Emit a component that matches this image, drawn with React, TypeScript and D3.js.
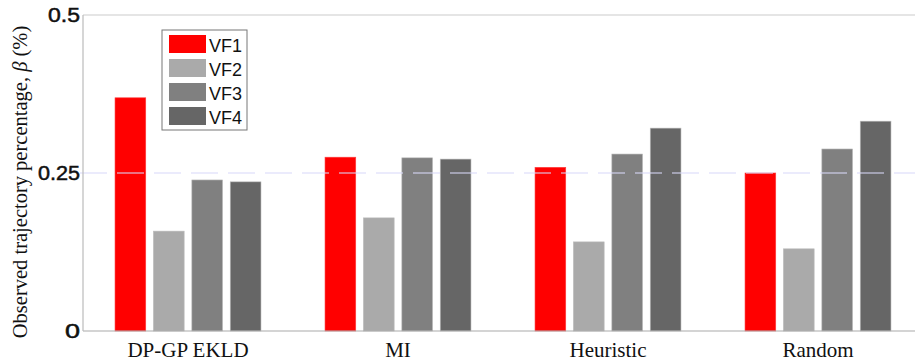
import React from "react";
import * as d3 from "d3";

const categories = ["DP-GP EKLD", "MI", "Heuristic", "Random"];
const seriesNames = ["VF1", "VF2", "VF3", "VF4"];
const vf1 = [0.369, 0.275, 0.259, 0.25];
const vf2 = [0.158, 0.179, 0.141, 0.13];
const vf3 = [0.239, 0.274, 0.28, 0.288];
const vf4 = [0.236, 0.272, 0.321, 0.332];
const seriesValues = [vf1, vf2, vf3, vf4];
const colors = ["#ff0000", "#aaaaaa", "#808080", "#666666"];
const yTicks = [0, 0.25, 0.5];
const yTickLabels = ["0", "0.25", "0.5"];

const W = 915;
const H = 363;
const left = 83;
const right = 923;
const top = 15;
const bottom = 331;

const SERIF = "'Liberation Serif', 'Times New Roman', serif";
const SANS = "'Liberation Sans', Arial, sans-serif";

export default function App() {
  const x0 = d3
    .scaleBand<string>()
    .domain(categories)
    .range([left, right])
    .paddingInner(0.305)
    .paddingOuter(0.1525);
  const x1 = d3
    .scaleBand<string>()
    .domain(seriesNames)
    .range([0, x0.bandwidth()])
    .paddingInner(0.2);
  const y = d3.scaleLinear().domain([0, 0.5]).range([bottom, top]);

  const tickWidths: Record<string, number> = { "0": 15, "0.25": 42, "0.5": 32 };

  return (
    <svg
      width={W}
      height={H}
      style={{ position: "absolute", left: 0, top: 0, background: "#fff" }}
    >
      <rect x={0} y={0} width={W} height={H} fill="#fff" />
      {/* bars */}
      {categories.map((c, ci) => (
        <g key={c} transform={`translate(${x0(c)},0)`}>
          {seriesNames.map((s, si) => {
            const v = seriesValues[si][ci];
            return (
              <rect
                key={s}
                x={x1(s)}
                y={y(v)}
                width={x1.bandwidth()}
                height={bottom - y(v)}
                fill={colors[si]}
                stroke={si === 0 ? "#ff4040" : "#bbbbbb"}
                strokeWidth={0.6}
              />
            );
          })}
        </g>
      ))}
      {/* dashed gridline at 0.25 */}
      <line
        x1={left - 3}
        x2={W}
        y1={y(0.25)}
        y2={y(0.25)}
        stroke="#d8d8fa"
        strokeOpacity={0.7}
        strokeWidth={1.5}
        strokeDasharray="27 10"
      />
      {/* axes */}
      <line x1={left} x2={W} y1={top} y2={top} stroke="#cccccc" strokeWidth={1.2} />
      <line x1={left} x2={W} y1={bottom} y2={bottom} stroke="#aaaaaa" strokeWidth={1.2} />
      <line x1={left} x2={left} y1={top} y2={bottom} stroke="#bbbbbb" strokeWidth={1.2} />
      {/* y tick labels */}
      {yTicks.map((t, i) => (
        <text
          key={t}
          x={left - 3}
          y={y(t) + 7}
          textAnchor="end"
          fontFamily={SANS}
          fontSize={20}
          fill="#111"
          stroke="#111"
          strokeWidth={0.5}
          textLength={tickWidths[yTickLabels[i]]}
          lengthAdjust="spacingAndGlyphs"
        >
          {yTickLabels[i]}
        </text>
      ))}
      {/* x category labels */}
      {categories.map((c) => (
        <text
          key={c}
          x={(x0(c) as number) + x0.bandwidth() / 2}
          y={357}
          textAnchor="middle"
          fontFamily={SERIF}
          fontSize={21}
          fill="#111"
        >
          {c}
        </text>
      ))}
      {/* y axis label */}
      <text
        transform={`translate(27,${182}) rotate(-90)`}
        textAnchor="middle"
        fontFamily={SERIF}
        fontSize={20.5}
        fill="#111"
      >
        Observed trajectory percentage, <tspan fontStyle="italic">β</tspan> (%)
      </text>
      {/* legend */}
      <rect x={162} y={30} width={85} height={100} fill="#fff" stroke="#777" strokeWidth={1} />
      {seriesNames.map((s, i) => (
        <g key={s}>
          <rect x={169} y={35 + i * 24} width={37} height={18} fill={colors[i]} />
          <text
            x={209}
            y={52 + i * 24}
            fontFamily={SANS}
            fontSize={18}
            fill="#111"
          >
            {s}
          </text>
        </g>
      ))}
    </svg>
  );
}
